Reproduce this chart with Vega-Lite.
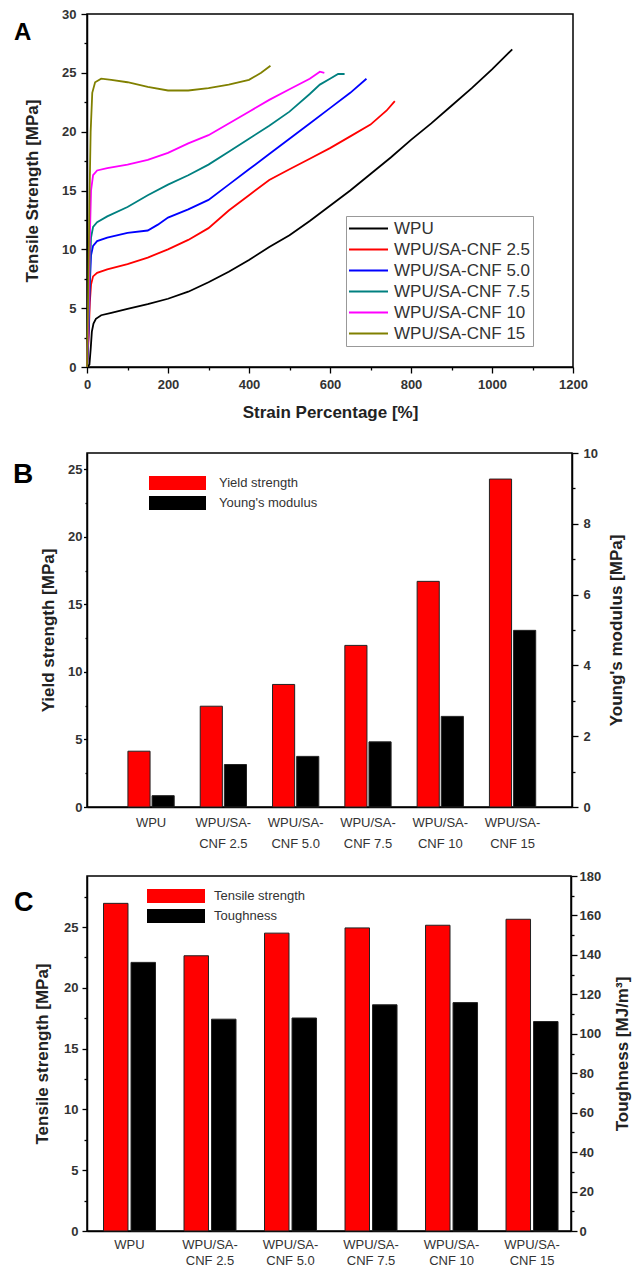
{
  "$schema": "https://vega.github.io/schema/vega-lite/v6.json",
  "padding": {"left": 12, "top": 7, "right": 0, "bottom": 0},
  "background": "white",
  "config": {
    "font": "Liberation Sans",
    "view": {"stroke": "#000", "strokeWidth": 1.5},
    "axis": {
      "domainColor": "#000", "domainWidth": 1.5, "tickColor": "#000", "tickWidth": 1.3,
      "labelFont": "Liberation Sans", "labelFontSize": 13, "labelFontWeight": "bold", "labelColor": "#333",
      "titleFont": "Liberation Sans", "titleFontSize": 17, "titleFontWeight": "bold", "titleColor": "#222",
      "grid": false, "labelFlush": false, "labelOverlap": false
    },
    "legend": {"labelFont": "Liberation Sans", "labelColor": "#333"},
    "title": {"font": "Liberation Sans", "fontWeight": "bold", "color": "#000", "anchor": "start", "frame": "group", "baseline": "alphabetic", "offset": 0}
  },
  "datasets": {
    "curves": [
      {"sample": "WPU", "strain": 0, "stress": 0}, {"sample": "WPU", "strain": 6, "stress": 0.2}, {"sample": "WPU", "strain": 9, "stress": 1.5}, {"sample": "WPU", "strain": 12, "stress": 3.0}, {"sample": "WPU", "strain": 16, "stress": 3.7}, {"sample": "WPU", "strain": 22, "stress": 4.1}, {"sample": "WPU", "strain": 35, "stress": 4.4}, {"sample": "WPU", "strain": 60, "stress": 4.6}, {"sample": "WPU", "strain": 100, "stress": 4.95}, {"sample": "WPU", "strain": 150, "stress": 5.35}, {"sample": "WPU", "strain": 200, "stress": 5.8}, {"sample": "WPU", "strain": 250, "stress": 6.4}, {"sample": "WPU", "strain": 300, "stress": 7.2}, {"sample": "WPU", "strain": 350, "stress": 8.1}, {"sample": "WPU", "strain": 400, "stress": 9.1}, {"sample": "WPU", "strain": 450, "stress": 10.2}, {"sample": "WPU", "strain": 500, "stress": 11.2}, {"sample": "WPU", "strain": 550, "stress": 12.4}, {"sample": "WPU", "strain": 600, "stress": 13.7}, {"sample": "WPU", "strain": 650, "stress": 15.0}, {"sample": "WPU", "strain": 700, "stress": 16.4}, {"sample": "WPU", "strain": 750, "stress": 17.8}, {"sample": "WPU", "strain": 800, "stress": 19.3}, {"sample": "WPU", "strain": 850, "stress": 20.7}, {"sample": "WPU", "strain": 900, "stress": 22.2}, {"sample": "WPU", "strain": 950, "stress": 23.7}, {"sample": "WPU", "strain": 1000, "stress": 25.3}, {"sample": "WPU", "strain": 1050, "stress": 27.0},
      {"sample": "WPU/SA-CNF 2.5", "strain": 0, "stress": 0}, {"sample": "WPU/SA-CNF 2.5", "strain": 4, "stress": 2.5}, {"sample": "WPU/SA-CNF 2.5", "strain": 7, "stress": 5.5}, {"sample": "WPU/SA-CNF 2.5", "strain": 10, "stress": 7.0}, {"sample": "WPU/SA-CNF 2.5", "strain": 15, "stress": 7.7}, {"sample": "WPU/SA-CNF 2.5", "strain": 25, "stress": 8.0}, {"sample": "WPU/SA-CNF 2.5", "strain": 50, "stress": 8.3}, {"sample": "WPU/SA-CNF 2.5", "strain": 100, "stress": 8.75}, {"sample": "WPU/SA-CNF 2.5", "strain": 150, "stress": 9.3}, {"sample": "WPU/SA-CNF 2.5", "strain": 200, "stress": 10.0}, {"sample": "WPU/SA-CNF 2.5", "strain": 250, "stress": 10.8}, {"sample": "WPU/SA-CNF 2.5", "strain": 300, "stress": 11.8}, {"sample": "WPU/SA-CNF 2.5", "strain": 350, "stress": 13.3}, {"sample": "WPU/SA-CNF 2.5", "strain": 400, "stress": 14.6}, {"sample": "WPU/SA-CNF 2.5", "strain": 450, "stress": 15.9}, {"sample": "WPU/SA-CNF 2.5", "strain": 500, "stress": 16.8}, {"sample": "WPU/SA-CNF 2.5", "strain": 550, "stress": 17.7}, {"sample": "WPU/SA-CNF 2.5", "strain": 600, "stress": 18.6}, {"sample": "WPU/SA-CNF 2.5", "strain": 650, "stress": 19.6}, {"sample": "WPU/SA-CNF 2.5", "strain": 700, "stress": 20.6}, {"sample": "WPU/SA-CNF 2.5", "strain": 740, "stress": 21.8}, {"sample": "WPU/SA-CNF 2.5", "strain": 760, "stress": 22.6},
      {"sample": "WPU/SA-CNF 5.0", "strain": 0, "stress": 0}, {"sample": "WPU/SA-CNF 5.0", "strain": 4, "stress": 3.0}, {"sample": "WPU/SA-CNF 5.0", "strain": 7, "stress": 7.0}, {"sample": "WPU/SA-CNF 5.0", "strain": 10, "stress": 9.5}, {"sample": "WPU/SA-CNF 5.0", "strain": 15, "stress": 10.3}, {"sample": "WPU/SA-CNF 5.0", "strain": 25, "stress": 10.7}, {"sample": "WPU/SA-CNF 5.0", "strain": 50, "stress": 11.0}, {"sample": "WPU/SA-CNF 5.0", "strain": 100, "stress": 11.4}, {"sample": "WPU/SA-CNF 5.0", "strain": 150, "stress": 11.6}, {"sample": "WPU/SA-CNF 5.0", "strain": 175, "stress": 12.1}, {"sample": "WPU/SA-CNF 5.0", "strain": 200, "stress": 12.7}, {"sample": "WPU/SA-CNF 5.0", "strain": 250, "stress": 13.4}, {"sample": "WPU/SA-CNF 5.0", "strain": 300, "stress": 14.2}, {"sample": "WPU/SA-CNF 5.0", "strain": 350, "stress": 15.5}, {"sample": "WPU/SA-CNF 5.0", "strain": 400, "stress": 16.8}, {"sample": "WPU/SA-CNF 5.0", "strain": 450, "stress": 18.1}, {"sample": "WPU/SA-CNF 5.0", "strain": 500, "stress": 19.4}, {"sample": "WPU/SA-CNF 5.0", "strain": 550, "stress": 20.7}, {"sample": "WPU/SA-CNF 5.0", "strain": 600, "stress": 22.0}, {"sample": "WPU/SA-CNF 5.0", "strain": 650, "stress": 23.3}, {"sample": "WPU/SA-CNF 5.0", "strain": 690, "stress": 24.5},
      {"sample": "WPU/SA-CNF 7.5", "strain": 0, "stress": 0}, {"sample": "WPU/SA-CNF 7.5", "strain": 4, "stress": 4.0}, {"sample": "WPU/SA-CNF 7.5", "strain": 7, "stress": 8.0}, {"sample": "WPU/SA-CNF 7.5", "strain": 10, "stress": 11.0}, {"sample": "WPU/SA-CNF 7.5", "strain": 15, "stress": 11.9}, {"sample": "WPU/SA-CNF 7.5", "strain": 25, "stress": 12.3}, {"sample": "WPU/SA-CNF 7.5", "strain": 50, "stress": 12.8}, {"sample": "WPU/SA-CNF 7.5", "strain": 100, "stress": 13.6}, {"sample": "WPU/SA-CNF 7.5", "strain": 150, "stress": 14.6}, {"sample": "WPU/SA-CNF 7.5", "strain": 200, "stress": 15.5}, {"sample": "WPU/SA-CNF 7.5", "strain": 250, "stress": 16.3}, {"sample": "WPU/SA-CNF 7.5", "strain": 300, "stress": 17.2}, {"sample": "WPU/SA-CNF 7.5", "strain": 350, "stress": 18.3}, {"sample": "WPU/SA-CNF 7.5", "strain": 400, "stress": 19.4}, {"sample": "WPU/SA-CNF 7.5", "strain": 450, "stress": 20.5}, {"sample": "WPU/SA-CNF 7.5", "strain": 500, "stress": 21.7}, {"sample": "WPU/SA-CNF 7.5", "strain": 550, "stress": 23.2}, {"sample": "WPU/SA-CNF 7.5", "strain": 575, "stress": 24.0}, {"sample": "WPU/SA-CNF 7.5", "strain": 600, "stress": 24.5}, {"sample": "WPU/SA-CNF 7.5", "strain": 620, "stress": 24.9}, {"sample": "WPU/SA-CNF 7.5", "strain": 636, "stress": 24.9},
      {"sample": "WPU/SA-CNF 10", "strain": 0, "stress": 0}, {"sample": "WPU/SA-CNF 10", "strain": 4, "stress": 5.0}, {"sample": "WPU/SA-CNF 10", "strain": 7, "stress": 11.0}, {"sample": "WPU/SA-CNF 10", "strain": 10, "stress": 15.0}, {"sample": "WPU/SA-CNF 10", "strain": 15, "stress": 16.3}, {"sample": "WPU/SA-CNF 10", "strain": 25, "stress": 16.7}, {"sample": "WPU/SA-CNF 10", "strain": 50, "stress": 16.9}, {"sample": "WPU/SA-CNF 10", "strain": 100, "stress": 17.2}, {"sample": "WPU/SA-CNF 10", "strain": 150, "stress": 17.6}, {"sample": "WPU/SA-CNF 10", "strain": 200, "stress": 18.2}, {"sample": "WPU/SA-CNF 10", "strain": 250, "stress": 19.0}, {"sample": "WPU/SA-CNF 10", "strain": 300, "stress": 19.7}, {"sample": "WPU/SA-CNF 10", "strain": 350, "stress": 20.7}, {"sample": "WPU/SA-CNF 10", "strain": 400, "stress": 21.7}, {"sample": "WPU/SA-CNF 10", "strain": 450, "stress": 22.7}, {"sample": "WPU/SA-CNF 10", "strain": 500, "stress": 23.6}, {"sample": "WPU/SA-CNF 10", "strain": 550, "stress": 24.5}, {"sample": "WPU/SA-CNF 10", "strain": 575, "stress": 25.1}, {"sample": "WPU/SA-CNF 10", "strain": 586, "stress": 25.0},
      {"sample": "WPU/SA-CNF 15", "strain": 0, "stress": 0}, {"sample": "WPU/SA-CNF 15", "strain": 3, "stress": 6.0}, {"sample": "WPU/SA-CNF 15", "strain": 6, "stress": 14.0}, {"sample": "WPU/SA-CNF 15", "strain": 9, "stress": 20.0}, {"sample": "WPU/SA-CNF 15", "strain": 13, "stress": 23.3}, {"sample": "WPU/SA-CNF 15", "strain": 20, "stress": 24.2}, {"sample": "WPU/SA-CNF 15", "strain": 35, "stress": 24.5}, {"sample": "WPU/SA-CNF 15", "strain": 60, "stress": 24.4}, {"sample": "WPU/SA-CNF 15", "strain": 100, "stress": 24.2}, {"sample": "WPU/SA-CNF 15", "strain": 150, "stress": 23.8}, {"sample": "WPU/SA-CNF 15", "strain": 200, "stress": 23.5}, {"sample": "WPU/SA-CNF 15", "strain": 250, "stress": 23.5}, {"sample": "WPU/SA-CNF 15", "strain": 300, "stress": 23.7}, {"sample": "WPU/SA-CNF 15", "strain": 350, "stress": 24.0}, {"sample": "WPU/SA-CNF 15", "strain": 400, "stress": 24.4}, {"sample": "WPU/SA-CNF 15", "strain": 430, "stress": 25.0}, {"sample": "WPU/SA-CNF 15", "strain": 453, "stress": 25.6}
    ],
    "props": [
      {"sample": "WPU", "measure": "Yield strength", "value": 4.13}, {"sample": "WPU", "measure": "Young's modulus", "value": 0.32},
      {"sample": "WPU/SA-CNF 2.5", "measure": "Yield strength", "value": 7.46}, {"sample": "WPU/SA-CNF 2.5", "measure": "Young's modulus", "value": 1.2},
      {"sample": "WPU/SA-CNF 5.0", "measure": "Yield strength", "value": 9.07}, {"sample": "WPU/SA-CNF 5.0", "measure": "Young's modulus", "value": 1.43},
      {"sample": "WPU/SA-CNF 7.5", "measure": "Yield strength", "value": 11.96}, {"sample": "WPU/SA-CNF 7.5", "measure": "Young's modulus", "value": 1.84},
      {"sample": "WPU/SA-CNF 10", "measure": "Yield strength", "value": 16.7}, {"sample": "WPU/SA-CNF 10", "measure": "Young's modulus", "value": 2.56},
      {"sample": "WPU/SA-CNF 15", "measure": "Yield strength", "value": 24.27}, {"sample": "WPU/SA-CNF 15", "measure": "Young's modulus", "value": 4.99}
    ],
    "tensile": [
      {"sample": "WPU", "measure": "Tensile strength", "value": 26.95}, {"sample": "WPU", "measure": "Toughness", "value": 136.2},
      {"sample": "WPU/SA-CNF 2.5", "measure": "Tensile strength", "value": 22.64}, {"sample": "WPU/SA-CNF 2.5", "measure": "Toughness", "value": 107.4},
      {"sample": "WPU/SA-CNF 5.0", "measure": "Tensile strength", "value": 24.5}, {"sample": "WPU/SA-CNF 5.0", "measure": "Toughness", "value": 108.0},
      {"sample": "WPU/SA-CNF 7.5", "measure": "Tensile strength", "value": 24.93}, {"sample": "WPU/SA-CNF 7.5", "measure": "Toughness", "value": 114.7},
      {"sample": "WPU/SA-CNF 10", "measure": "Tensile strength", "value": 25.15}, {"sample": "WPU/SA-CNF 10", "measure": "Toughness", "value": 115.8},
      {"sample": "WPU/SA-CNF 15", "measure": "Tensile strength", "value": 25.64}, {"sample": "WPU/SA-CNF 15", "measure": "Toughness", "value": 106.2}
    ]
  },
  "spacing": 86,
  "bounds": "flush",
  "resolve": {"scale": {"color": "independent", "xOffset": "independent"}, "legend": {"color": "independent"}},
  "vconcat": [
    {
      "width": 486, "height": 353,
      "title": {"text": "A", "fontSize": 24, "dx": -73, "dy": 41},
      "data": {"name": "curves"},
      "mark": {"type": "line", "strokeWidth": 1.8},
      "encoding": {
        "x": {"field": "strain", "type": "quantitative", "scale": {"domain": [0, 1200], "nice": false},
          "axis": {"title": "Strain Percentage [%]", "values": [0, 100, 200, 300, 400, 500, 600, 700, 800, 900, 1000, 1100, 1200], "format": "d",
            "labelExpr": "datum.value % 200 == 0 ? datum.label : ''",
            "tickSize": {"condition": {"test": "datum.value % 200 != 0", "value": 3}, "value": 6},
            "labelPadding": 5, "titlePadding": 13}},
        "y": {"field": "stress", "type": "quantitative", "scale": {"domain": [0, 30], "nice": false},
          "axis": {"title": "Tensile Strength [MPa]", "values": [0, 2.5, 5, 7.5, 10, 12.5, 15, 17.5, 20, 22.5, 25, 27.5, 30],
            "labelExpr": "datum.value % 5 == 0 ? datum.label : ''",
            "tickSize": {"condition": {"test": "datum.value % 5 != 0", "value": 3}, "value": 6},
            "labelPadding": 5, "titlePadding": 20}},
        "color": {"field": "sample", "type": "nominal",
          "scale": {"domain": ["WPU", "WPU/SA-CNF 2.5", "WPU/SA-CNF 5.0", "WPU/SA-CNF 7.5", "WPU/SA-CNF 10", "WPU/SA-CNF 15"],
            "range": ["#000000", "#ff0000", "#0000ff", "#008080", "#ff00ff", "#808000"]},
          "legend": {"title": null, "orient": "none", "legendX": 259, "legendY": 202, "strokeColor": "#999", "fillColor": "#fff",
            "padding": 2, "symbolType": "stroke", "symbolSize": 1521, "symbolStrokeWidth": 2, "clipHeight": 21, "rowPadding": 0,
            "labelOffset": 5, "labelFontSize": 17, "labelLimit": 300}}
      }
    },
    {
      "spacing": 69,
      "bounds": "flush",
      "resolve": {"scale": {"color": "independent", "xOffset": "independent"}, "legend": {"color": "independent"}},
      "vconcat": [
        {
          "width": 485, "height": 354,
          "title": {"text": "B", "fontSize": 28, "dx": -74, "dy": 46},
          "data": {"name": "props"},
          "encoding": {
            "x": {"field": "sample", "type": "nominal",
              "sort": ["WPU", "WPU/SA-CNF 2.5", "WPU/SA-CNF 5.0", "WPU/SA-CNF 7.5", "WPU/SA-CNF 10", "WPU/SA-CNF 15"],
              "scale": {"paddingInner": 0.36, "paddingOuter": 0.534, "align": 0.53},
              "axis": {"title": null, "labelAngle": 0, "ticks": false, "tickSize": 0, "labelPadding": 9, "labelFontWeight": "normal", "labelFontSize": 13, "labelLineHeight": 21, "labelBaseline": "top",
                "labelExpr": "datum.value == 'WPU' ? 'WPU' : ['WPU/SA-', replace(datum.value, 'WPU/SA-', '')]"}},
            "xOffset": {"field": "measure", "type": "nominal", "sort": ["Yield strength", "Young's modulus"], "scale": {"paddingInner": 0.083}},
            "color": {"field": "measure", "type": "nominal",
              "scale": {"domain": ["Yield strength", "Young's modulus"], "range": ["#ff0000", "#000000"]},
              "legend": {"title": null, "orient": "none", "legendX": 62, "legendY": 23, "padding": 0,
                "symbolType": "M-1,-0.25H1V0.25H-1Z", "symbolSize": 3249, "symbolStrokeWidth": 0, "clipHeight": 14, "rowPadding": 6,
                "labelOffset": 13, "labelFontSize": 13}}
          },
          "layer": [
            {
              "transform": [{"filter": "datum.measure == 'Yield strength'"}],
              "mark": {"type": "bar", "stroke": "#222", "strokeWidth": 1},
              "encoding": {"y": {"field": "value", "type": "quantitative", "scale": {"domain": [0, 26.2], "nice": false},
                "axis": {"title": "Yield strength [MPa]", "values": [0, 2.5, 5, 7.5, 10, 12.5, 15, 17.5, 20, 22.5, 25],
                  "labelExpr": "datum.value % 5 == 0 ? datum.label : ''",
                  "tickSize": {"condition": {"test": "datum.value % 5 != 0", "value": 2}, "value": 3.5},
                  "labelPadding": 1.5, "titlePadding": 10}}}
            },
            {
              "transform": [{"filter": "datum.measure != 'Yield strength'"}],
              "mark": {"type": "bar", "stroke": "#222", "strokeWidth": 1},
              "encoding": {"y": {"field": "value", "type": "quantitative", "scale": {"domain": [0, 10], "nice": false},
                "axis": {"title": "Young's modulus [MPa]", "orient": "right", "titleAngle": -90, "values": [0, 1, 2, 3, 4, 5, 6, 7, 8, 9, 10],
                  "labelExpr": "datum.value % 2 == 0 ? datum.label : ''",
                  "tickSize": {"condition": {"test": "datum.value % 2 != 0", "value": 3}, "value": 6},
                  "labelPadding": 5, "titlePadding": 28}}}
            }
          ],
          "resolve": {"scale": {"y": "independent"}}
        },
        {
          "width": 484, "height": 355,
          "title": {"text": "C", "fontSize": 27, "dx": -73, "dy": 51},
          "data": {"name": "tensile"},
          "encoding": {
            "x": {"field": "sample", "type": "nominal",
              "sort": ["WPU", "WPU/SA-CNF 2.5", "WPU/SA-CNF 5.0", "WPU/SA-CNF 7.5", "WPU/SA-CNF 10", "WPU/SA-CNF 15"],
              "scale": {"paddingInner": 0.354, "paddingOuter": 0.183, "align": 0.56},
              "axis": {"title": null, "labelAngle": 0, "ticks": false, "tickSize": 0, "labelPadding": 7, "labelFontWeight": "normal", "labelFontSize": 13, "labelLineHeight": 16, "labelBaseline": "top",
                "labelExpr": "datum.value == 'WPU' ? 'WPU' : ['WPU/SA-', replace(datum.value, 'WPU/SA-', '')]"}},
            "xOffset": {"field": "measure", "type": "nominal", "sort": ["Tensile strength", "Toughness"], "scale": {"paddingInner": 0.11}},
            "color": {"field": "measure", "type": "nominal",
              "scale": {"domain": ["Tensile strength", "Toughness"], "range": ["#ff0000", "#000000"]},
              "legend": {"title": null, "orient": "none", "legendX": 60, "legendY": 13, "padding": 0,
                "symbolType": "M-1,-0.25H1V0.25H-1Z", "symbolSize": 3364, "symbolStrokeWidth": 0, "clipHeight": 14, "rowPadding": 6,
                "labelOffset": 9, "labelFontSize": 13}}
          },
          "layer": [
            {
              "transform": [{"filter": "datum.measure == 'Tensile strength'"}],
              "mark": {"type": "bar", "stroke": "#222", "strokeWidth": 1},
              "encoding": {"y": {"field": "value", "type": "quantitative", "scale": {"domain": [0, 29.2], "nice": false},
                "axis": {"title": "Tensile strength [MPa]", "values": [0, 2.5, 5, 7.5, 10, 12.5, 15, 17.5, 20, 22.5, 25, 27.5],
                  "labelExpr": "datum.value % 5 == 0 ? datum.label : ''",
                  "tickSize": {"condition": {"test": "datum.value % 5 != 0", "value": 3}, "value": 5},
                  "labelPadding": 4, "titlePadding": 12}}}
            },
            {
              "transform": [{"filter": "datum.measure == 'Toughness'"}],
              "mark": {"type": "bar", "stroke": "#222", "strokeWidth": 1},
              "encoding": {"y": {"field": "value", "type": "quantitative", "scale": {"domain": [0, 180], "nice": false},
                "axis": {"title": "Toughness [MJ/m³]", "orient": "right", "titleAngle": -90, "values": [0, 10, 20, 30, 40, 50, 60, 70, 80, 90, 100, 110, 120, 130, 140, 150, 160, 170, 180],
                  "labelExpr": "datum.value % 20 == 0 ? datum.label : ''",
                  "tickSize": {"condition": {"test": "datum.value % 20 != 0", "value": 3}, "value": 6},
                  "labelPadding": 2, "titlePadding": 31}}}
            }
          ],
          "resolve": {"scale": {"y": "independent"}}
        }
      ]
    }
  ]
}
